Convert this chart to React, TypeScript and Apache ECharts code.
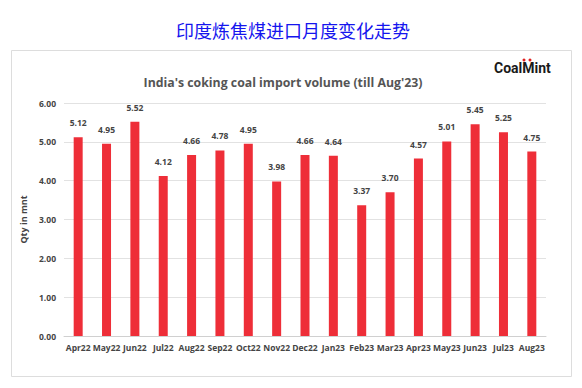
import React, { useEffect, useRef } from "react";
import * as echarts from "echarts";

const categories = ["Apr22","May22","Jun22","Jul22","Aug22","Sep22","Oct22","Nov22","Dec22","Jan23","Feb23","Mar23","Apr23","May23","Jun23","Jul23","Aug23"];
const values = [5.12,4.95,5.52,4.12,4.66,4.78,4.95,3.98,4.66,4.64,3.37,3.70,4.57,5.01,5.45,5.25,4.75];
const pageTitle = "印度炼焦煤进口月度变化走势";
const chartTitle = "India's coking coal import volume (till Aug'23)";
const yName = "Qty in mnt";

export default function App() {
  const ref = useRef<HTMLDivElement>(null);
  useEffect(() => {
    if (!ref.current) return;
    const chart = echarts.init(ref.current, null, { renderer: "svg" });
    chart.setOption({
      animation: false,
      backgroundColor: "#ffffff",
      title: [
        {
          text: pageTitle,
          left: 288,
          textAlign: "center",
          top: 16,
          textStyle: { color: "#1515ee", fontSize: 18, fontWeight: "normal", fontFamily: "Noto Sans CJK SC" },
        },
        {
          text: chartTitle,
          left: 278,
          textAlign: "center",
          top: 71,
          textStyle: { color: "#555555", fontSize: 12.3, fontWeight: "bold", fontFamily: "Open Sans" },
        },
      ],
      graphic: [
        {
          type: "rect",
          shape: { x: 11.5, y: 50.5, width: 560, height: 326 },
          style: { fill: "none", stroke: "#dddddd", lineWidth: 1 },
          silent: true,
          z: -1,
        },
        {
          type: "text",
          x: 494,
          y: 61,
          style: { text: "CoalMint", fill: "#1a1a1a", font: "bold 14px Roboto" },
        },
        { type: "circle", shape: { cx: 524, cy: 60, r: 1.5 }, style: { fill: "#e02020" } },
        { type: "circle", shape: { cx: 530, cy: 60, r: 1.5 }, style: { fill: "#e02020" } },
      ],
      grid: { left: 64, right: 36, top: 103, bottom: 52 },
      xAxis: {
        type: "category",
        data: categories,
        axisTick: { show: false },
        axisLine: { lineStyle: { color: "#d0d0d0" } },
        axisLabel: { color: "#444444", fontSize: 8.5, fontWeight: "bold", fontFamily: "Open Sans", interval: 0, margin: 7 },
      },
      yAxis: {
        type: "value",
        min: 0,
        max: 6,
        interval: 1,
        name: yName,
        nameLocation: "middle",
        nameGap: 34,
        nameTextStyle: { color: "#444444", fontSize: 9, fontWeight: "bold", fontFamily: "Open Sans" },
        axisLabel: { color: "#444444", fontSize: 8.5, fontWeight: "bold", fontFamily: "Open Sans", formatter: (v: number) => v.toFixed(2) },
        splitLine: { lineStyle: { color: "#e2e2e2" } },
        axisLine: { show: false },
        axisTick: { show: false },
      },
      series: [
        {
          type: "bar",
          data: values,
          barWidth: 9,
          itemStyle: { color: "#ee2e38" },
          label: {
            show: true,
            position: "top",
            distance: 10,
            color: "#444444",
            fontSize: 8.5,
            fontWeight: "bold",
            fontFamily: "Open Sans",
            formatter: (p: any) => p.value.toFixed(2),
          },
        },
      ],
    });
    return () => chart.dispose();
  }, []);
  return <div ref={ref} style={{ position: "fixed", left: 0, top: 0, width: 582, height: 388 }} />;
}
